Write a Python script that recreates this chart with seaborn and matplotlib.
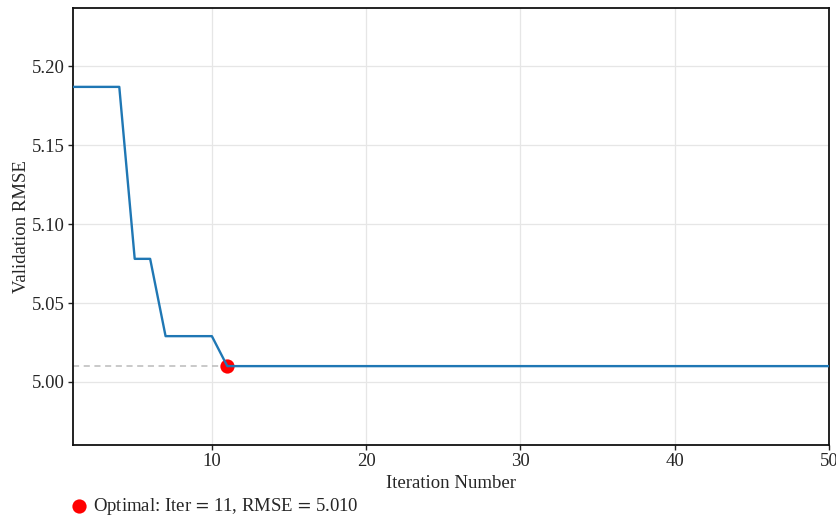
import numpy as np
import pandas as pd
import matplotlib
matplotlib.use("Agg")
import matplotlib.pyplot as plt
import seaborn as sns

# Validation RMSE recorded at each tuning iteration (best-so-far)
iterations = list(range(1, 51))
rmse = [5.187] * 4 + [5.078] * 2 + [5.029] * 4 + [5.010] * 40
best_iter = 11
best_rmse = 5.010

sns.set_theme(style="ticks")
plt.rcParams["font.family"] = ["Liberation Serif", "DejaVu Serif"]
plt.rcParams["mathtext.fontset"] = "stix"

df = pd.DataFrame({"Iteration": iterations, "RMSE": rmse})

fig = plt.figure(figsize=(8.37, 5.17), dpi=100)
ax = fig.add_axes([73 / 837, 1 - 445 / 517, (829 - 73) / 837, (445 - 8) / 517])

ax.grid(True, color="#e6e6e6", linewidth=0.9, zorder=0)
ax.set_axisbelow(True)

sns.lineplot(data=df, x="Iteration", y="RMSE", ax=ax, color="#1f77b4",
             linewidth=1.7, zorder=3)

# Horizontal reference at the optimum value
ax.plot([iterations[0], best_iter], [best_rmse, best_rmse], linestyle=(0, (4, 3)),
        color="#bbbbbb", linewidth=1.1, zorder=2)

opt = ax.scatter([best_iter], [best_rmse], s=105, color="red", zorder=2.5,
                 linewidths=0, label=f"Optimal: Iter$\\,=\\,${best_iter}, RMSE$\\,=\\,${best_rmse:.3f}")

ax.set_xlim(1, 50)
ax.set_ylim(min(rmse) - 0.05, max(rmse) + 0.05)
ax.set_xticks([10, 20, 30, 40, 50])
ax.set_yticks([5.00, 5.05, 5.10, 5.15, 5.20])
ax.set_yticklabels([f"{v:.2f}" for v in [5.00, 5.05, 5.10, 5.15, 5.20]])

fs = 13.5
ax.set_xlabel("Iteration Number", fontsize=fs, labelpad=3)
ax.set_ylabel("Validation RMSE", fontsize=fs, labelpad=1)
ax.tick_params(axis="both", labelsize=fs, length=3.5, width=1, color="#222222",
               direction="out", pad=2.5)

for side in ["left", "right", "top", "bottom"]:
    ax.spines[side].set_visible(True)
    ax.spines[side].set_color("#111111")
    ax.spines[side].set_linewidth(1.3)

leg = ax.legend(handles=[opt], loc="upper left", bbox_to_anchor=(-0.015, -0.10),
                frameon=False, fontsize=fs, handletextpad=0.15,
                borderaxespad=0, handlelength=1.1)

fig.savefig("out.png", dpi=100)
